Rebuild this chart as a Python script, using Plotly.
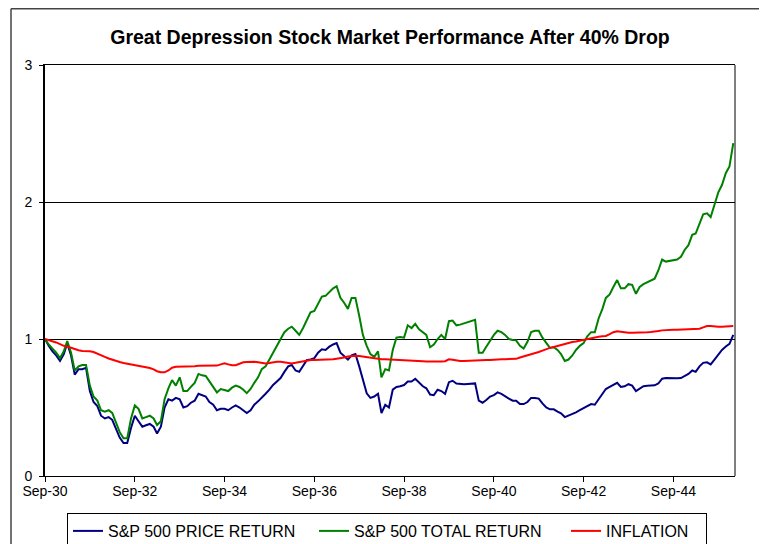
import pandas as pd
import plotly.graph_objects as go

# Monthly index values (Sep-1930 = 1.0)
price_return = [
    1.00, 0.95, 0.91, 0.88, 0.84, 0.89, 0.97, 0.88, 0.74, 0.78,
    0.78, 0.79, 0.62, 0.54, 0.51, 0.44, 0.42, 0.43, 0.41, 0.35,
    0.28, 0.24, 0.24, 0.35, 0.44, 0.40, 0.36, 0.37, 0.38, 0.36,
    0.31, 0.36, 0.50, 0.56, 0.55, 0.57, 0.56, 0.50, 0.51, 0.535,
    0.55, 0.60, 0.59, 0.58, 0.54, 0.52, 0.48, 0.49, 0.49, 0.48,
    0.50, 0.515, 0.50, 0.48, 0.46, 0.48, 0.52, 0.545, 0.57, 0.60,
    0.63, 0.665, 0.69, 0.715, 0.76, 0.80, 0.81, 0.77, 0.76, 0.80,
    0.845, 0.85, 0.86, 0.90, 0.925, 0.92, 0.944, 0.96, 0.97, 0.90,
    0.876, 0.85, 0.88, 0.89, 0.80, 0.70, 0.603, 0.57, 0.58, 0.60,
    0.46, 0.52, 0.50, 0.63, 0.65, 0.655, 0.664, 0.69, 0.69, 0.71,
    0.68, 0.655, 0.64, 0.595, 0.59, 0.63, 0.62, 0.60, 0.685, 0.695,
    0.675, 0.67, 0.67, 0.672, 0.674, 0.676, 0.55, 0.535, 0.555, 0.58,
    0.59, 0.61, 0.60, 0.58, 0.565, 0.55, 0.55, 0.525, 0.525, 0.54,
    0.57, 0.57, 0.565, 0.53, 0.50, 0.487, 0.487, 0.47, 0.457, 0.43,
    0.44, 0.45, 0.465, 0.48, 0.494, 0.51, 0.525, 0.52, 0.56, 0.60,
    0.635, 0.65, 0.665, 0.68, 0.65, 0.655, 0.67, 0.66, 0.62, 0.64,
    0.655, 0.658, 0.66, 0.662, 0.675, 0.71, 0.715, 0.713, 0.713, 0.713,
    0.715, 0.73, 0.745, 0.77, 0.76, 0.80, 0.826, 0.83, 0.815, 0.85,
    0.89, 0.92, 0.945, 0.965, 1.03,
]

total_return = [
    1.00, 0.96, 0.93, 0.90, 0.86, 0.91, 0.985, 0.90, 0.77, 0.80,
    0.81, 0.81, 0.66, 0.58, 0.55, 0.48, 0.47, 0.48, 0.46, 0.39,
    0.32, 0.275, 0.275, 0.42, 0.515, 0.49, 0.42, 0.43, 0.44, 0.42,
    0.372, 0.40, 0.56, 0.64, 0.70, 0.66, 0.72, 0.62, 0.62, 0.65,
    0.68, 0.745, 0.735, 0.73, 0.69, 0.655, 0.61, 0.635, 0.63, 0.62,
    0.645, 0.66, 0.65, 0.63, 0.605, 0.635, 0.68, 0.72, 0.78, 0.80,
    0.85, 0.90, 0.95, 1.00, 1.05, 1.075, 1.09, 1.06, 1.03, 1.08,
    1.14, 1.195, 1.205, 1.26, 1.31, 1.315, 1.345, 1.37, 1.385, 1.30,
    1.265, 1.22, 1.30, 1.30, 1.17, 1.03, 0.95, 0.89, 0.87, 0.91,
    0.72, 0.78, 0.77, 0.92, 1.01, 1.015, 1.01, 1.10, 1.08, 1.11,
    1.07, 1.05, 1.03, 0.94, 0.96, 1.00, 1.03, 1.00, 1.13, 1.135,
    1.10, 1.105, 1.115, 1.12, 1.13, 1.14, 0.90, 0.90, 0.944, 0.99,
    1.03, 1.06, 1.05, 1.03, 1.00, 0.993, 0.99, 0.95, 0.93, 0.98,
    1.05, 1.06, 1.06, 1.01, 0.97, 0.935, 0.94, 0.92, 0.89, 0.84,
    0.85, 0.88, 0.92, 0.95, 0.97, 1.02, 1.05, 1.05, 1.15, 1.22,
    1.30, 1.325, 1.38, 1.43, 1.37, 1.37, 1.40, 1.395, 1.33, 1.38,
    1.40, 1.415, 1.43, 1.44, 1.50, 1.58, 1.565, 1.57, 1.58, 1.58,
    1.60, 1.65, 1.685, 1.76, 1.77, 1.84, 1.91, 1.917, 1.89, 1.98,
    2.07, 2.124, 2.21, 2.26, 2.43,
]

inflation = [
    1.000, 0.993, 0.985, 0.975, 0.963, 0.950, 0.945, 0.935, 0.928, 0.918,
    0.912, 0.912, 0.910, 0.905, 0.895, 0.885, 0.870, 0.858, 0.848, 0.840,
    0.832, 0.825, 0.820, 0.815, 0.810, 0.805, 0.800, 0.795, 0.788, 0.778,
    0.765, 0.758, 0.757, 0.770, 0.790, 0.798, 0.798, 0.798, 0.797, 0.798,
    0.802, 0.805, 0.805, 0.805, 0.805, 0.805, 0.806, 0.815, 0.822, 0.815,
    0.808, 0.808, 0.820, 0.830, 0.832, 0.834, 0.834, 0.830, 0.826, 0.822,
    0.825, 0.830, 0.834, 0.834, 0.830, 0.824, 0.822, 0.826, 0.832, 0.836,
    0.840, 0.846, 0.847, 0.847, 0.847, 0.848, 0.850, 0.852, 0.856, 0.859,
    0.865, 0.872, 0.876, 0.878, 0.876, 0.872, 0.866, 0.860, 0.855, 0.852,
    0.852, 0.852, 0.851, 0.850, 0.849, 0.848, 0.847, 0.846, 0.845, 0.843,
    0.842, 0.838, 0.835, 0.834, 0.834, 0.834, 0.835, 0.838, 0.852, 0.848,
    0.842, 0.840, 0.840, 0.842, 0.843, 0.844, 0.845, 0.846, 0.847, 0.847,
    0.850, 0.852, 0.853, 0.853, 0.852, 0.852, 0.855, 0.865, 0.872, 0.878,
    0.888, 0.895, 0.905, 0.915, 0.928, 0.935, 0.942, 0.950, 0.956, 0.963,
    0.970, 0.978, 0.982, 0.988, 0.995, 1.002, 1.008, 1.012, 1.017, 1.020,
    1.022, 1.035, 1.050, 1.056, 1.053, 1.046, 1.045, 1.046, 1.046, 1.046,
    1.048, 1.050, 1.052, 1.053, 1.058, 1.063, 1.066, 1.067, 1.068, 1.068,
    1.069, 1.070, 1.070, 1.072, 1.074, 1.075, 1.085, 1.095, 1.095, 1.090,
    1.090, 1.090, 1.092, 1.095, 1.095,
]

start_month = "1930-09-01"
tick_dates = ["1930-09-01", "1932-09-01", "1934-09-01", "1936-09-01",
              "1938-09-01", "1940-09-01", "1942-09-01", "1944-09-01"]
tick_labels = ["Sep-30", "Sep-32", "Sep-34", "Sep-36",
               "Sep-38", "Sep-40", "Sep-42", "Sep-44"]
y_ticks = [0, 1, 2, 3]

series_names = ["S&P 500 PRICE RETURN", "S&P 500 TOTAL RETURN", "INFLATION"]
series_colors = ["#000080", "#008000", "#FF0000"]
legend_widths = [201, 207, 95]

dates = pd.date_range(start=start_month, periods=len(price_return), freq="MS")

FONT = "Liberation Sans, Arial, sans-serif"

fig = go.Figure()
for name, vals, color, lw in zip(series_names,
                                 [price_return, total_return, inflation],
                                 series_colors, legend_widths):
    fig.add_trace(go.Scatter(
        x=dates, y=vals, mode="lines", name=name,
        line=dict(color=color, width=2),
        legendwidth=lw,
    ))

# page has an 8px body margin; work in page pixel coordinates
OFF = 8
W, H = 767 - OFF, 544 - OFF
PL, PT, PR, PB = 45, 65, 735, 476          # plot area in page pixels
L, T = PL - OFF, PT - OFF
pw, ph = PR - PL, PB - PT
R, B = W - L - pw, H - T - ph

def paper_x(px):
    return (px - PL) / pw

def paper_y(py):
    return (PB - py) / ph

def cont_x(px):
    return (px - OFF) / W

def cont_y(py):
    return 1 - (py - OFF) / H

fig.update_layout(
    width=W, height=H,
    margin=dict(l=L, r=R, t=T, b=B, pad=0, autoexpand=False),
    paper_bgcolor="white", plot_bgcolor="white",
    font=dict(family=FONT, color="black", size=14),
    title=dict(
        text="<b>Great Depression Stock Market Performance After 40% Drop</b>",
        font=dict(family=FONT, size=19.5, color="black"),
        x=0.5, xref="paper", xanchor="center",
        yref="container", y=cont_y(37), yanchor="middle",
    ),
    xaxis=dict(
        range=[dates[0], pd.Timestamp("1946-01-15")],
        tickmode="array", tickvals=tick_dates, ticktext=tick_labels,
        ticks="outside", ticklen=5, tickcolor="black", tickwidth=1,
        ticklabelstandoff=-3,
        showline=True, linecolor="black", linewidth=1, mirror=True,
        showgrid=False, zeroline=False,
        tickfont=dict(family=FONT, size=14, color="black"),
    ),
    yaxis=dict(
        range=[0, 3], tickmode="array", tickvals=y_ticks,
        ticks="outside", ticklen=4, tickcolor="black", tickwidth=1,
        ticklabelstandoff=4,
        showline=True, linecolor="black", linewidth=2,
        showgrid=True, gridcolor="black", gridwidth=1,
        zeroline=False,
        tickfont=dict(family=FONT, size=14, color="black"),
    ),
    showlegend=True,
    legend=dict(
        orientation="h",
        xref="container", x=cont_x(67), xanchor="left",
        yref="container", y=cont_y(513), yanchor="top",
        bordercolor="black", borderwidth=1, bgcolor="white",
        font=dict(family=FONT, size=16, color="black"),
        itemwidth=30,
    ),
    shapes=[
        dict(type="line", xref="paper", yref="paper",
             x0=1, x1=1, y0=0, y1=1, line=dict(color="black", width=1)),
        dict(type="line", xref="paper", yref="paper",
             x0=paper_x(11), x1=paper_x(11),
             y0=paper_y(8.8), y1=paper_y(600),
             line=dict(color="#444444", width=1.5)),
        dict(type="line", xref="paper", yref="paper",
             x0=paper_x(11), x1=paper_x(800),
             y0=paper_y(8.8), y1=paper_y(8.8),
             line=dict(color="#444444", width=1.5)),
    ],
)

fig.write_html("out.html")
